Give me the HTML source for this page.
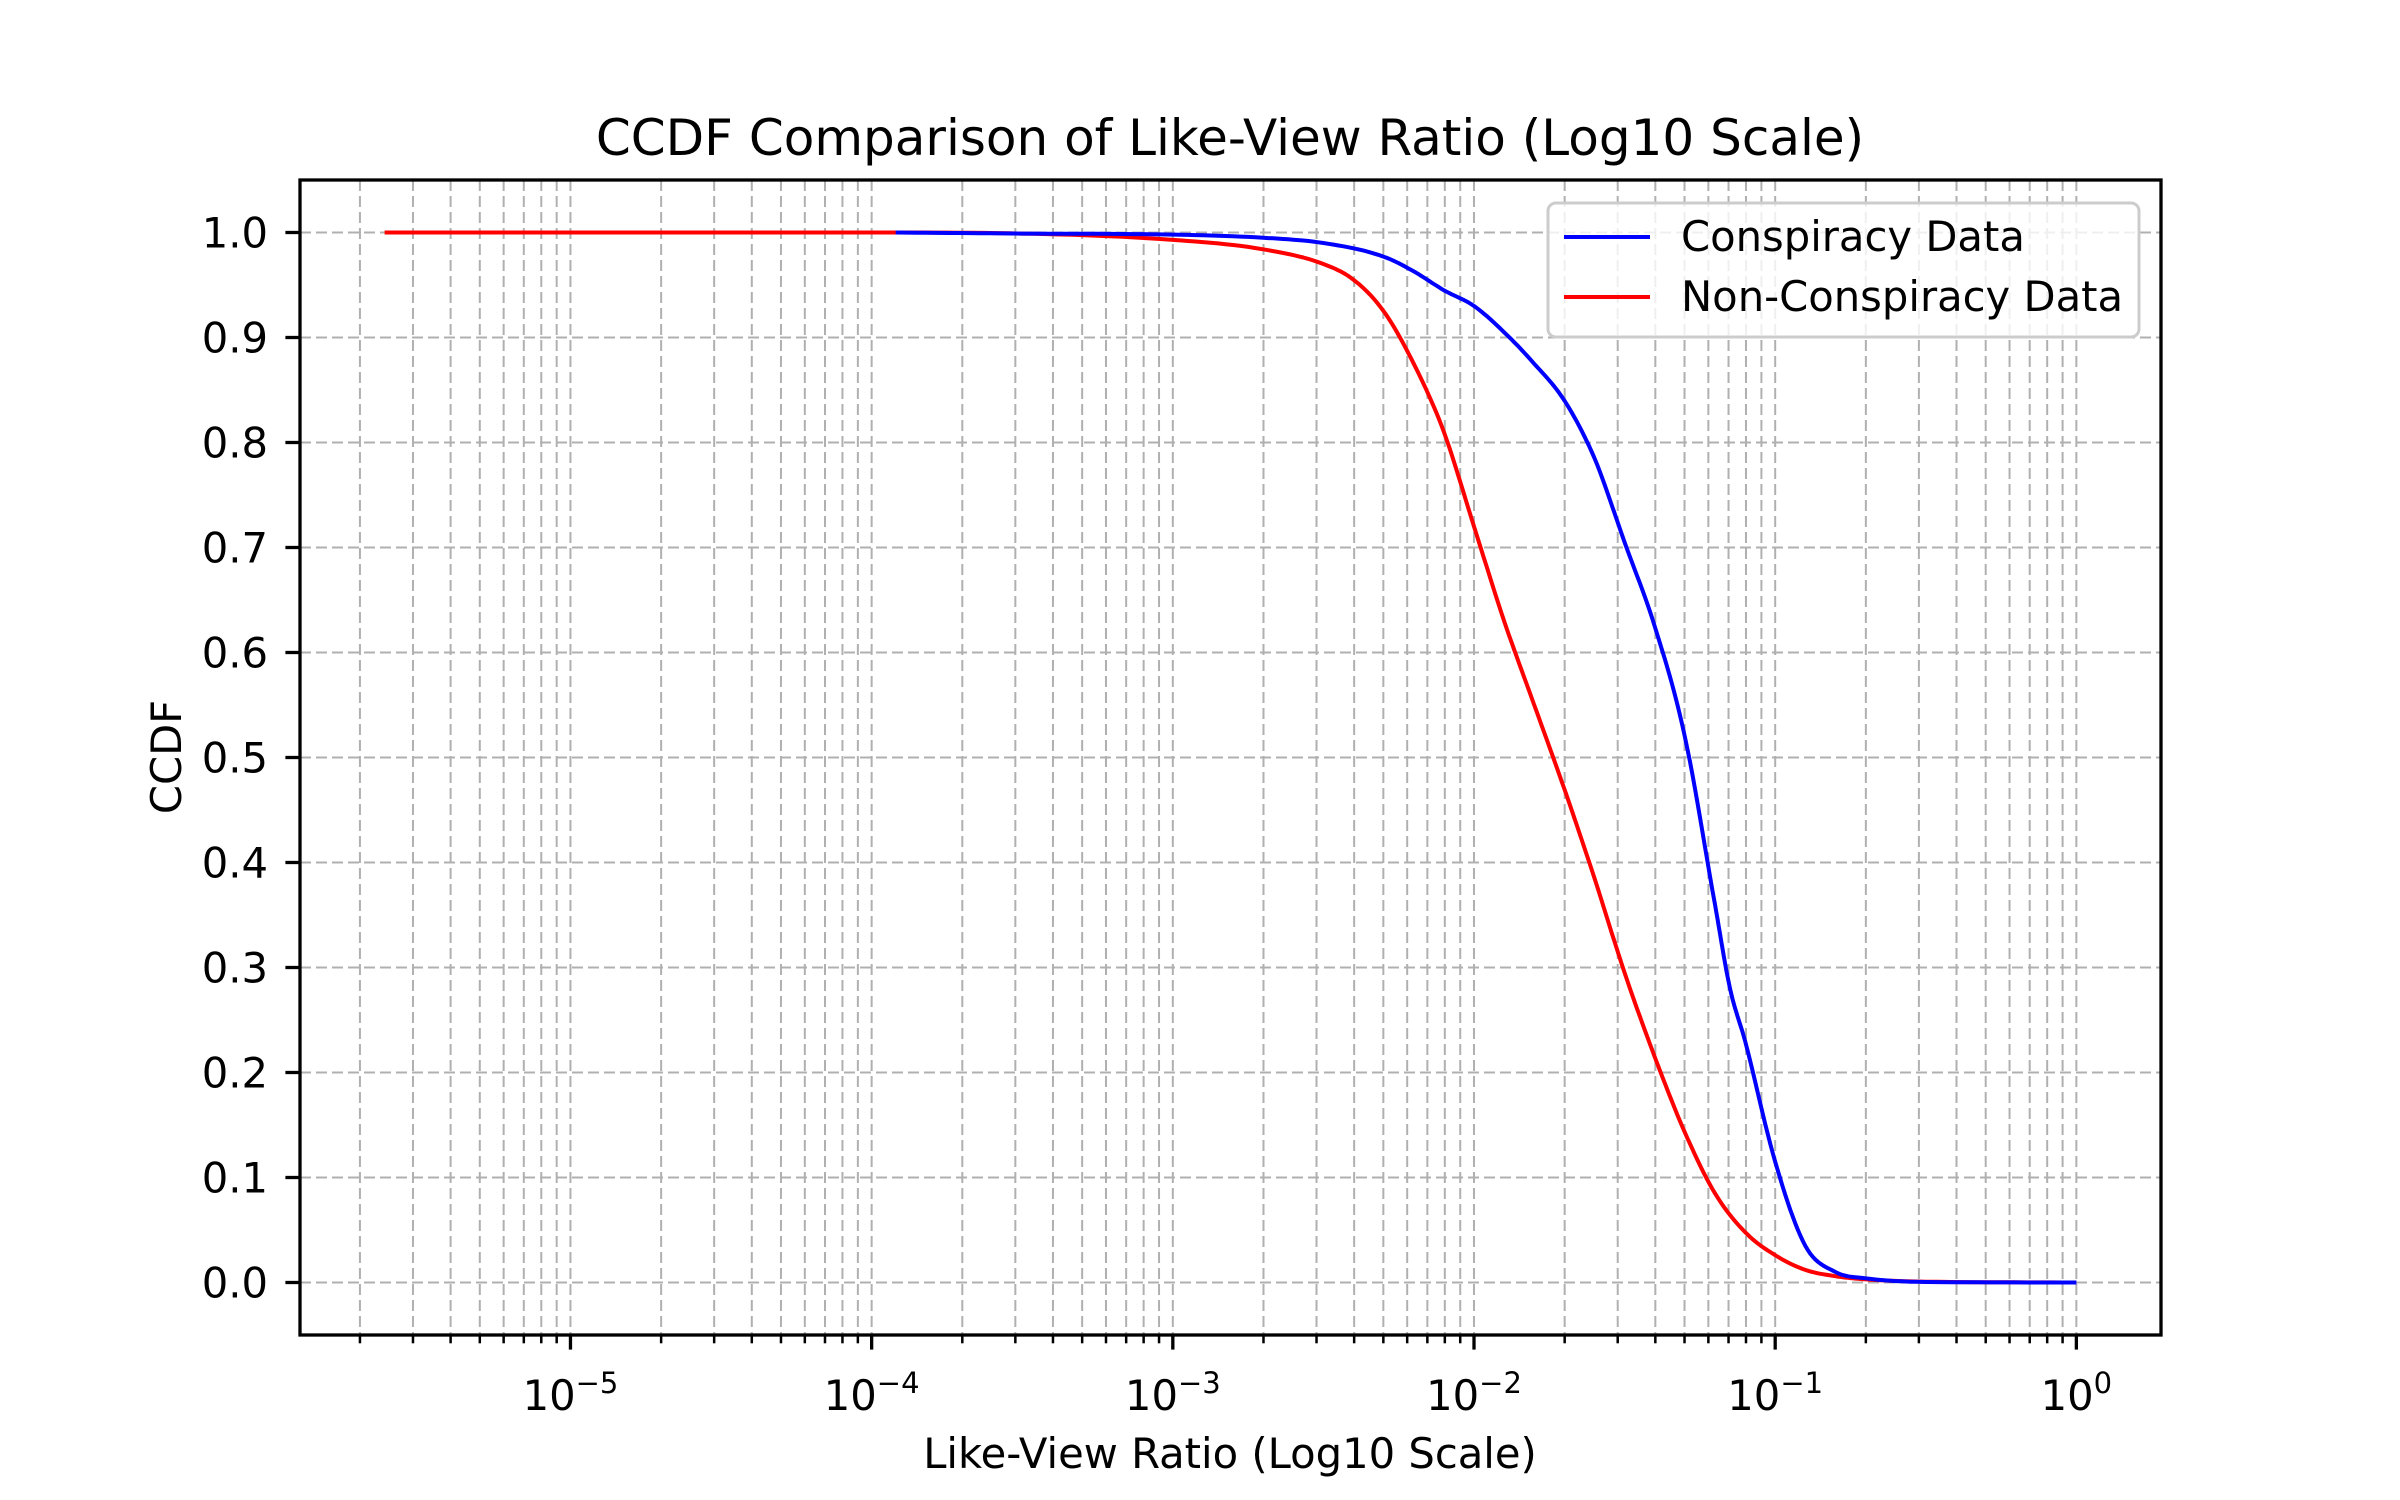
<!DOCTYPE html>
<html><head><meta charset="utf-8"><style>
html,body{margin:0;padding:0;background:#fff;}
svg{display:block;font-family:"DejaVu Sans","Liberation Sans",sans-serif;}
</style></head><body>
<svg id="chart" width="2400" height="1500" viewBox="0 0 2400 1500" xmlns="http://www.w3.org/2000/svg">
<rect width="2400" height="1500" fill="#fff"/>
<text x="1230" y="155" font-size="50" text-anchor="middle">CCDF Comparison of Like-View Ratio (Log10 Scale)</text>
<g id="grid"></g>
<g id="series"></g>
<rect x="300" y="180" width="1861" height="1155" fill="none" stroke="#000" stroke-width="3.3"/>
<g id="ticks"></g>
<text x="1230" y="1468" font-size="41.7" text-anchor="middle">Like-View Ratio (Log10 Scale)</text>
<text x="0" y="0" font-size="41.7" text-anchor="middle" transform="translate(181,757) rotate(-90)">CCDF</text>
<g>
<rect x="1548" y="203" width="591" height="134" rx="8" fill="#fff" fill-opacity="0.8" stroke="#ccc" stroke-width="3"/>
<line x1="1564" y1="237" x2="1650" y2="237" stroke="#0000ff" stroke-width="4"/>
<text x="1681" y="251" font-size="41.7">Conspiracy Data</text>
<line x1="1564" y1="297" x2="1650" y2="297" stroke="#ff0000" stroke-width="4"/>
<text x="1681" y="311" font-size="41.7">Non-Conspiracy Data</text>
</g>
</svg>
<script>
const consLogX = [-3.92,-3.5,-3.0,-2.7,-2.5,-2.3,-2.2,-2.1,-2.0,-1.9,-1.8,-1.7,-1.6,-1.5,-1.4,-1.3,-1.2,-1.15,-1.1,-1.0,-0.9,-0.8,-0.7,-0.5,0];
const consCcdf = [1.0,0.999,0.998,0.995,0.99,0.977,0.963,0.945,0.93,0.905,0.875,0.84,0.785,0.705,0.625,0.52,0.36,0.28,0.23,0.115,0.035,0.01,0.004,0.0005,0];
const nonLogX = [-5.617,-4.0,-3.5,-3.0,-2.7,-2.5,-2.4,-2.3,-2.2,-2.1,-2.0,-1.9,-1.8,-1.7,-1.6,-1.5,-1.4,-1.3,-1.2,-1.1,-1.0,-0.9,-0.8,-0.7,-0.5,0];
const nonCcdf = [1.0,1.0,0.999,0.993,0.984,0.97,0.955,0.925,0.875,0.81,0.72,0.63,0.55,0.47,0.385,0.295,0.215,0.143,0.085,0.048,0.026,0.012,0.006,0.003,0.0008,0];
const yTicks = [0,0.1,0.2,0.3,0.4,0.5,0.6,0.7,0.8,0.9,1.0];
const xDecades = [-5,-4,-3,-2,-1,0];

const NS="http://www.w3.org/2000/svg";
const X0=300,X1=2161,Y0=180,Y1=1335;
const LMIN=-5.898,LMAX=0.281,VMIN=-0.05,VMAX=1.05;
function sx(l){return X0+(l-LMIN)/(LMAX-LMIN)*(X1-X0);}
function sy(v){return Y1-(v-VMIN)/(VMAX-VMIN)*(Y1-Y0);}
function mk(tag,attrs,parent){const e=document.createElementNS(NS,tag);for(const k in attrs)e.setAttribute(k,attrs[k]);parent.appendChild(e);return e;}
const grid=document.getElementById('grid'),ticks=document.getElementById('ticks'),series=document.getElementById('series');
for(let d=-6;d<=0;d++){for(let m=1;m<=9;m++){const l=d+Math.log10(m);if(l<LMIN||l>LMAX)continue;const x=sx(l);
 const g=mk('line',{x1:x,y1:Y0,x2:x,y2:Y1,stroke:'#b0b0b0','stroke-width':2,'stroke-dasharray':'11,5'},grid);
 
 
 const t=mk('line',{x1:x,y1:Y1,x2:x,y2:Y1+(m===1?14.6:8.3),stroke:'#000','stroke-width':m===1?3.3:2.5},ticks);
 
 
}}
xDecades.forEach(d=>{const x=sx(d);
 const t=mk('text',{x:x,y:1410,'font-size':41.7,'text-anchor':'middle'},ticks);
 
 
 const a=mk('tspan',{},t);a.textContent='10';
 const b=mk('tspan',{'font-size':29,dy:-17},t);b.textContent=(d<0?'\u2212'+(-d):String(d));
});
yTicks.forEach(v=>{const y=sy(v);
 const g=mk('line',{x1:X0,y1:y,x2:X1,y2:y,stroke:'#b0b0b0','stroke-width':2,'stroke-dasharray':'11,5'},grid);
 
 
 const t=mk('line',{x1:X0-14.6,y1:y,x2:X0,y2:y,stroke:'#000','stroke-width':3.3},ticks);
 
 
 const l=mk('text',{x:268,y:y+15,'font-size':41.7,'text-anchor':'end'},ticks);l.textContent=v.toFixed(1);
 
 
});
// monotone cubic (Fritsch-Carlson) interpolation for smooth rendering through data points
function monotone(xs,ys){
 const n=xs.length,dx=[],m=[],t=new Array(n);
 for(let i=0;i<n-1;i++){dx.push(xs[i+1]-xs[i]);m.push((ys[i+1]-ys[i])/dx[i]);}
 t[0]=m[0];t[n-1]=m[n-2];
 for(let i=1;i<n-1;i++){t[i]=(m[i-1]*m[i]<=0)?0:(m[i-1]+m[i])/2;}
 for(let i=0;i<n-1;i++){if(m[i]===0){t[i]=0;t[i+1]=0;continue;}
  const a=t[i]/m[i],b=t[i+1]/m[i],s=a*a+b*b;if(s>9){const k=3/Math.sqrt(s);t[i]=k*a*m[i];t[i+1]=k*b*m[i];}}
 const pts=[];
 for(let i=0;i<n-1;i++){const steps=12;for(let j=0;j<steps;j++){const u=j/steps,h=dx[i];
  const h00=2*u*u*u-3*u*u+1,h10=u*u*u-2*u*u+u,h01=-2*u*u*u+3*u*u,h11=u*u*u-u*u;
  pts.push([xs[i]+u*h,h00*ys[i]+h10*h*t[i]+h01*ys[i+1]+h11*h*t[i+1]]);}}
 pts.push([xs[n-1],ys[n-1]]);return pts;
}
function path(xs,ys,color,name){
 let d='';monotone(xs,ys).forEach((p,i)=>{d+=(i?'L':'M')+sx(p[0]).toFixed(1)+','+sy(p[1]).toFixed(1);});
 const p=mk('path',{d:d,fill:'none',stroke:color,'stroke-width':4,'stroke-linejoin':'round'},series);
 
 
}
path(nonLogX,nonCcdf,'#ff0000','non-conspiracy-line');
path(consLogX,consCcdf,'#0000ff','conspiracy-line');
</script>
</body></html>
